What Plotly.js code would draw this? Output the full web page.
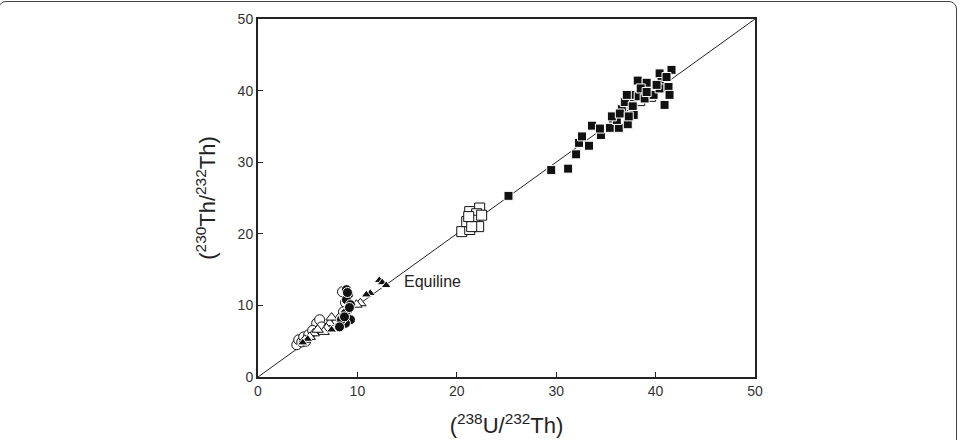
<!DOCTYPE html>
<html>
<head>
<meta charset="utf-8">
<script src="https://cdn.plot.ly/plotly-3.0.1.min.js"></script>
<style>
html,body{margin:0;padding:0;overflow:hidden;background:#fff;}
#wrap{position:relative;width:961px;height:440px;overflow:hidden;}
#chart{width:961px;height:440px;}
#frame{position:absolute;left:-2px;top:1px;width:959px;height:480px;border:1.5px solid #444;border-radius:8px;pointer-events:none;box-sizing:border-box;}
</style>
</head>
<body>
<div id="wrap"><div id="chart"></div><div id="frame"></div></div>
<script>
// Equiline
const equiX = [0, 50];
const equiY = [0, 50];

// Filled squares
const fsqX = [25.2, 29.5, 31.2, 32.0, 32.3, 32.6, 33.3, 33.6, 34.5, 34.4, 35.4, 36.3, 37.2, 35.7, 36.1, 36.6, 36.9, 37.7, 37.8, 37.5, 38.3, 38.9, 39.8, 38.2, 39.1, 40.4, 41.6, 40.6, 40.4, 41.3, 41.4, 40.9, 40.1, 38.5, 39.1, 37.1, 35.6, 36.4, 37.3, 41.1];
const fsqY = [25.3, 28.9, 29.1, 31.1, 32.7, 33.6, 32.3, 35.1, 33.8, 34.7, 34.8, 34.8, 35.3, 36.1, 35.9, 37.4, 38.4, 37.8, 36.6, 39.4, 39.2, 38.9, 39.4, 41.4, 41.1, 42.4, 42.9, 41.2, 40.3, 40.5, 39.4, 38.0, 40.8, 40.3, 39.8, 39.4, 36.4, 36.8, 36.4, 41.9];

// Open squares
const osqX = [20.5, 21.3, 21.3, 22.3, 22.0, 21.0, 21.8, 22.2, 21.5, 22.5, 21.2, 37.0, 37.6, 38.4, 39.5];
const osqY = [20.3, 20.6, 23.1, 23.6, 22.8, 21.7, 21.9, 21.0, 21.0, 22.6, 22.4, 37.0, 37.9, 38.6, 39.2];

// Open circles
const ociX = [3.9, 4.1, 4.4, 4.6, 5.1, 5.9, 6.2, 6.4, 5.5, 4.8, 8.5, 8.8, 8.6];
const ociY = [4.5, 5.2, 4.9, 5.6, 5.9, 7.5, 8.0, 7.0, 6.5, 5.0, 11.9, 10.4, 9.1];

// Filled circles
const fciX = [8.9, 9.1, 8.9, 9.3, 9.1, 8.8, 9.3, 8.8, 8.4, 8.2, 9.0, 9.2, 8.7];
const fciY = [12.2, 11.5, 10.8, 10.1, 9.4, 8.9, 8.0, 7.5, 8.0, 7.0, 11.8, 9.7, 8.4];

// Open triangles
const otrX = [10.3, 9.9, 8.1, 7.7, 7.2, 6.9, 6.6, 5.6, 5.2, 4.7, 6.0, 7.4];
const otrY = [10.3, 10.1, 8.2, 7.5, 7.5, 6.8, 6.3, 6.1, 5.6, 5.2, 6.6, 8.3];

// Filled triangles
const ftrX = [12.2, 12.5, 12.9, 11.3, 10.9, 7.9, 7.4, 8.1, 5.0, 4.5];
const ftrY = [13.5, 13.2, 12.8, 11.7, 11.5, 7.0, 6.6, 7.3, 5.3, 4.8];

const tickVals = [0, 10, 20, 30, 40, 50];
const tickText = ['0', '10', '20', '30', '40', '50'];

const openM = (sym, size) => ({symbol: sym, size: size, color: '#ffffff', line: {color: '#111', width: 1}});
const fillM = (sym, size) => ({symbol: sym, size: size, color: '#111', line: {color: '#ffffff', width: 1}});

const traces = [
  {x: equiX, y: equiY, mode: 'lines', line: {color: '#222', width: 1}, hoverinfo: 'skip'},
  {x: ociX, y: ociY, mode: 'markers', marker: openM('circle', 10)},
  {x: otrX, y: otrY, mode: 'markers', marker: openM('triangle-up', 10)},
  {x: ftrX, y: ftrY, mode: 'markers', marker: fillM('triangle-up', 9)},
  {x: fciX, y: fciY, mode: 'markers', marker: fillM('circle', 10)},
  {x: osqX, y: osqY, mode: 'markers', marker: openM('square', 10)},
  {x: fsqX, y: fsqY, mode: 'markers', marker: fillM('square', 9)}
];

const axisBase = {
  range: [0, 50], tickvals: tickVals, ticktext: tickText,
  ticks: 'inside', ticklen: 5, tickwidth: 1, tickcolor: '#222',
  showline: true, linecolor: '#222', linewidth: 2, mirror: true,
  showgrid: false, zeroline: false, fixedrange: true,
  tickfont: {family: 'Liberation Sans, Arial, sans-serif', size: 14, color: '#333'}
};

const layout = {
  width: 961, height: 440,
  margin: {l: 258, r: 206, t: 19, b: 63},
  paper_bgcolor: '#ffffff', plot_bgcolor: '#ffffff',
  showlegend: false,
  xaxis: Object.assign({}, axisBase, {
    title: {text: '(<sup>238</sup>U/<sup>232</sup>Th)', standoff: 20,
            font: {family: 'Liberation Sans, Arial, sans-serif', size: 22, color: '#222'}}
  }),
  yaxis: Object.assign({}, axisBase, {
    title: {text: '(<sup>230</sup>Th/<sup>232</sup>Th)', standoff: 16,
            font: {family: 'Liberation Sans, Arial, sans-serif', size: 22, color: '#222'}}
  }),
  annotations: [{
    x: 14.5, y: 13.3, xref: 'x', yref: 'y', text: 'Equiline', showarrow: false,
    xanchor: 'left', yanchor: 'middle',
    font: {family: 'Liberation Sans, Arial, sans-serif', size: 16, color: '#222'}
  }]
};

Plotly.newPlot('chart', traces, layout, {displayModeBar: false, staticPlot: true});
</script>
</body>
</html>
